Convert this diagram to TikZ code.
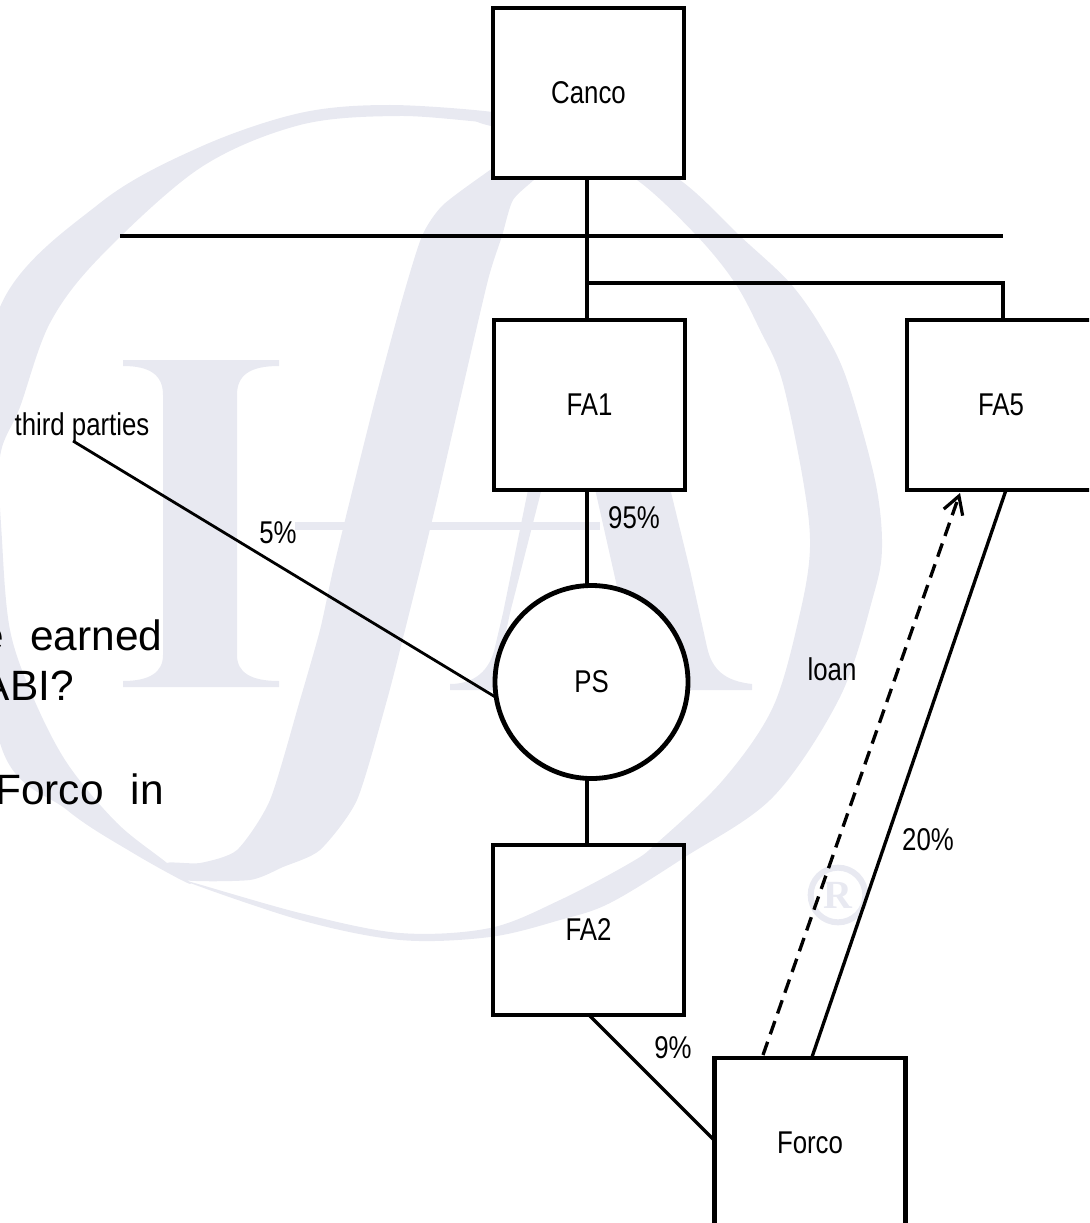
\documentclass[tikz,border=0pt]{standalone}
\usepackage{fontspec}
\setmainfont{Liberation Sans}
\newfontfamily\narrowf[FakeStretch=0.82]{Liberation Sans}
\newfontfamily\markf{Liberation Serif}
\usetikzlibrary{arrows.meta}
\definecolor{wm}{HTML}{E8E9F1}
\tikzset{
  x=0.75pt,y=-0.75pt,
  nlabel/.style={font=\narrowf\fontsize{23.6pt}{26pt}\selectfont},
  box/.style={draw,nlabel,line width=3.6pt,rectangle,minimum width=143.25pt,minimum height=127.5pt,inner sep=0pt,outer sep=0pt,line join=miter},
  opaque/.style={fill=white},
  lbl/.style={nlabel,inner sep=0pt},
  big/.style={inner sep=0pt,anchor=base west,font=\fontsize{31.8pt}{34pt}\selectfont},
  conn/.style={line width=2.5pt},
  heavy conn/.style={line width=3.6pt},
  slim conn/.style={line width=2.1pt}
}
\begin{document}
\begin{tikzpicture}
\useasboundingbox (0,0) rectangle (1089,1223);
\clip (0,0) rectangle (1089,1223);
% watermark: ring, left and top
\fill[wm] plot[smooth cycle,tension=.55] coordinates {(500,113)(390,105)(300,113)(200,147)(100,203)(0,307)(-25,500)(0,743)(67,810)(133,853)(190,884)(167,863)(117,823)(67,763)(33,697)(10,630)(2,540)(0,457)(20,407)(50,323)(100,257)(200,168)(300,125)(400,116)(500,123)};
% watermark: ring, right and bottom
\fill[wm] plot[smooth cycle,tension=.55] coordinates {(480,113)(600,135)(680,180)(740,236)(790,283)(823,330)(847,380)(875,480)(882,547)(873,597)(840,697)(773,797)(685,857)(610,903)(560,920)(490,937)(400,940)(300,920)(183,880)(300,913)(400,933)(490,928)(560,900)(630,863)(657,843)(723,780)(773,707)(800,613)(810,547)(803,480)(782,380)(760,330)(735,283)(697,236)(637,180)(570,145)(480,123)};
% watermark: script stroke
\fill[wm] plot[smooth cycle,tension=.4] coordinates {(520,150)(490,170)(443,205)(422,236)(402,300)(375,400)(350,500)(333,570)(320,630)(300,700)(270,800)(237,850)(200,863)(167,863)(183,880)(250,880)(283,867)(320,850)(357,800)(387,700)(405,630)(420,570)(437,500)(460,400)(488,280)(502,236)(513,200)(537,177)(560,150)};
% watermark: block I
\fill[wm] (123,360) -- (279,360) -- (279,366) .. controls (250,366) and (237,375) .. (237,395) -- (237,655) .. controls (237,672) and (250,681) .. (279,681) -- (279,687) -- (123,687) -- (123,681) .. controls (150,681) and (163,672) .. (163,655) -- (163,395) .. controls (163,375) and (150,366) .. (123,366) -- cycle;
% watermark: block A
\fill[wm] (295,522) rectangle (600,530);
\fill[wm] (593,480) -- (668,480) -- (690,570) -- (707,647) .. controls (712,670) and (725,681) .. (752,684) -- (752,690) -- (590,690) -- (620,600) -- cycle;
\fill[wm] (530,480) -- (544,480) -- (510,613) -- (500,660) -- (540,690) -- (450,690) -- (450,684) .. controls (475,684) and (490,670) .. (495,647) -- (503,613) -- cycle;
\node[circle,draw=wm,text=wm,line width=4.5pt,minimum size=41pt,inner sep=0pt,font=\markf\bfseries\fontsize{30pt}{30pt}\selectfont] (regmark) at (838,895) {R};
% big text
\node[big,anchor=base east] (tE) at (4,650) {e};
\node[big] (tEarned) at (30,650) {earned};
\node[big,anchor=base east] (tAbi) at (74,700) {ABI?};
\node[big,anchor=base east] (tForco) at (104,804) {Forco};
\node[big,anchor=base east] (tIn) at (164,804) {in};
% boxes
\node[box,opaque] (Canco) at (588.5,93) {Canco};
\node[box,opaque] (FA1) at (589.5,405) {FA1};
\node[box,minimum width=141pt] (FA5) at (1001,405) {FA5};
\node[draw,circle,opaque,nlabel,line width=3.6pt,minimum size=144.75pt,inner sep=0pt,outer sep=0pt] (PS) at (591.5,682) {PS};
\node[box] (FA2) at (588.5,930) {FA2};
\node[box] (Forco) at (810,1143) {Forco};
% labels
\node[lbl] (third) at (82,427) {third parties};
\node[lbl] (p5) at (278,533) {5\%};
\node[lbl] (p95) at (634,518) {95\%};
\node[lbl] (loan) at (832,669) {loan};
\node[lbl] (p20) at (928,840) {20\%};
\node[lbl] (p9) at (673,1048) {9\%};
% connector helpers
\coordinate (j) at (587,283);
\coordinate (jr) at (1003,283);
\coordinate (railL) at (120,236);
\coordinate (railR) at (1003,236);
\coordinate (tp) at (73,441);
\coordinate (psw) at (497,698);
\coordinate (fa2o) at (589,1015);
\coordinate (forw) at (714,1140);
\coordinate (fa5o) at (1006,490);
\coordinate (forn) at (812,1057);
\coordinate (dashs) at (763,1055);
\coordinate (dashe) at (960,493);
% connectors
\draw[heavy conn] (j |- Canco.south) -- (j |- FA1.north);
\draw[conn] (railL) -- (railR);
\draw[conn,line join=miter] (j) -- (jr) -- (jr |- FA5.north);
\draw[conn] (j |- FA1.south) -- (j |- PS.north);
\draw[conn] (j |- PS.south) -- (j |- FA2.north);
\draw[slim conn] (tp) -- (psw);
\draw[conn] (fa2o) -- (forw);
\draw[conn] (fa5o) -- (forn);
\draw[conn,dash pattern=on 10.5pt off 6pt,-{Straight Barb[length=13pt,width=15pt,line width=2.4pt]}] (dashs) -- (dashe);
\end{tikzpicture}
\end{document}
